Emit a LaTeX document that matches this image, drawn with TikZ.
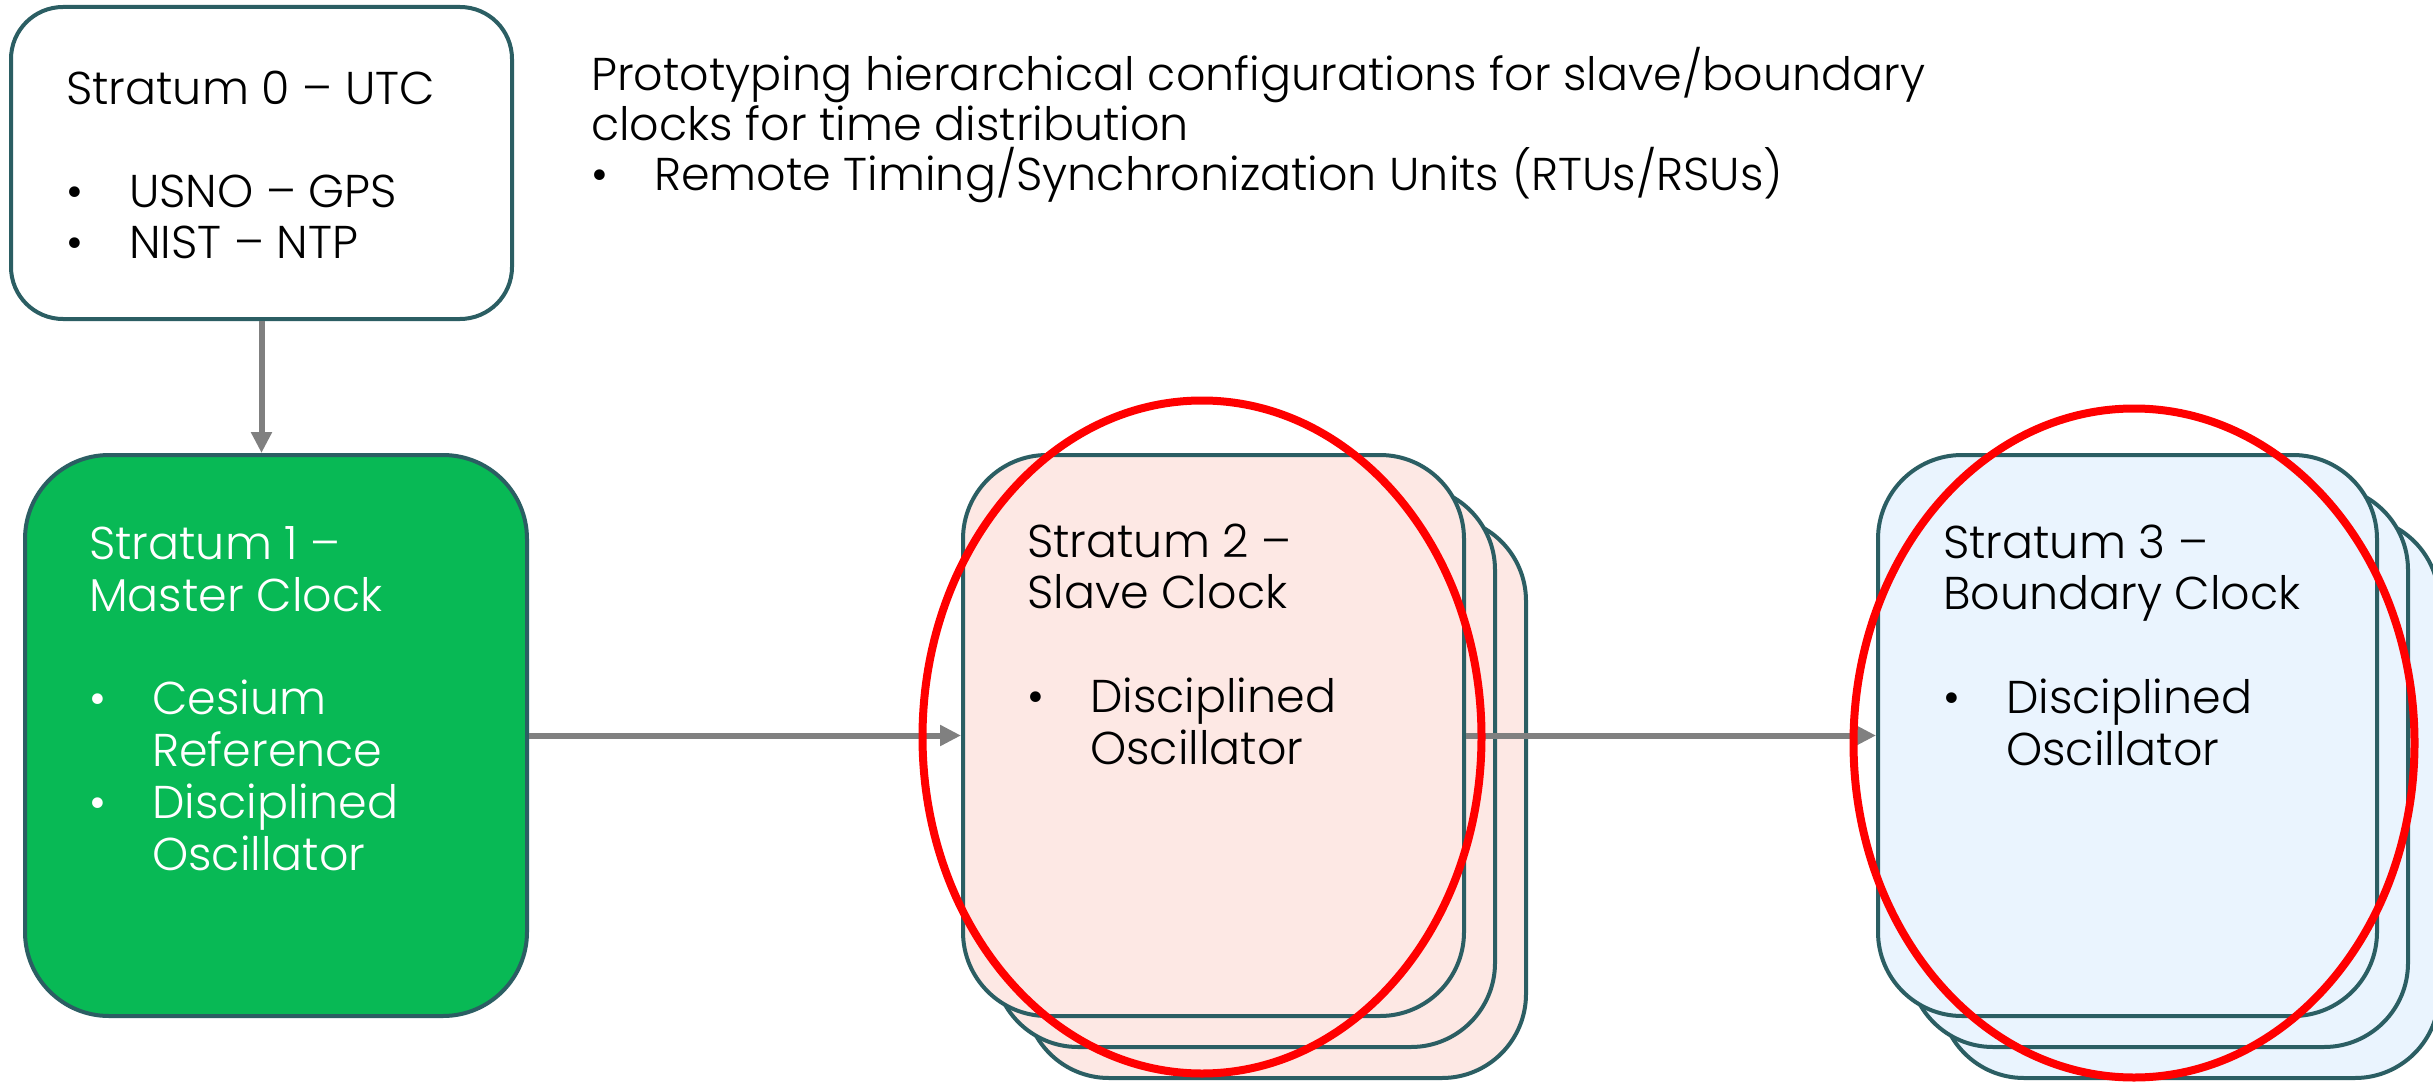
\documentclass[tikz,border=0pt]{standalone}
\usepackage{fontspec}
\setmainfont{Poppins}[UprightFont=* Light]
\usetikzlibrary{arrows.meta,shapes.geometric}

\definecolor{edgeteal}{HTML}{2B5E63}
\definecolor{mastergreen}{HTML}{08B955}
\definecolor{slavepink}{HTML}{FDE8E4}
\definecolor{boundblue}{HTML}{EAF4FE}
\definecolor{linkgray}{HTML}{808080}
\definecolor{markred}{HTML}{FF0000}

\newcommand\blt{\makebox[63pt][l]{\textbullet}}
\newcommand\ind{\hspace*{63pt}}

\begin{document}
\begin{tikzpicture}[x=1pt,y=-1pt,
  card/.style={rectangle, draw=edgeteal, line width=4pt, inner sep=0pt},
  % text blocks are placed by the baseline of their last line
  label/.style={anchor=base west, inner sep=0pt, align=left,
    font=\fontsize{46}{51.7}\selectfont},
  link/.style={draw=linkgray, line width=6pt,
    -{Triangle[length=21pt,width=20pt]}},
  ring/.style={ellipse, draw=markred, line width=8pt, inner sep=0pt}]

\fill[white] (0,0) rectangle (2433,1083);
\useasboundingbox (0,0) rectangle (2433,1083);

% Stratum 0 source
\node[card, fill=white, minimum width=501pt, minimum height=312pt,
      rounded corners=52pt] (s0) at (261.5,163) {};
\node[label] (s0txt) at (66,259)
  {Stratum 0 – UTC\\[51pt]\blt USNO – GPS\\\blt NIST – NTP};

% Stratum 1 master clock
\node[card, fill=mastergreen, minimum width=502pt, minimum height=561pt,
      rounded corners=84pt] (s1) at (276,735.5) {};
\node[label, text=white] (s1txt) at (89,870)
  {Stratum 1 –\\Master Clock\\[51.7pt]\blt Cesium\\\ind Reference\\\blt Disciplined\\\ind Oscillator};

% Stratum 2 slave clocks (stack of three)
\foreach \k/\nm in {62/s2c,31/s2b,0/s2a}{
  \node[card, fill=slavepink, minimum width=501pt, minimum height=561pt,
        rounded corners=84pt] (\nm) at (1213.5+\k,735.5+\k) {};
}
\node[label] (s2txt) at (1027,764)
  {Stratum 2 –\\Slave Clock\\[51.7pt]\blt Disciplined\\\ind Oscillator};

% Stratum 3 boundary clocks (stack of three)
\foreach \k/\nm in {62/s3c,31/s3b,0/s3a}{
  \node[card, fill=boundblue, minimum width=499pt, minimum height=561pt,
        rounded corners=84pt] (\nm) at (2127.5+\k,735.5+\k) {};
}
\node[label] (s3txt) at (1943,765)
  {Stratum 3 –\\Boundary Clock\\[51.7pt]\blt Disciplined\\\ind Oscillator};

% Heading text
\node[label, font=\fontsize{46}{50}\selectfont] (title) at (591,191)
  {Prototyping hierarchical configurations for slave/boundary\\clocks for time distribution\\\blt Remote Timing/Synchronization Units (RTUs/RSUs)};

% Connectors
\draw[link] (s0.south) -- (s0.south |- s1.north);
\draw[link] (s1.east) -- (s2a.west);
\draw[link] (s2a.east) -- (s3a.west);

% Highlight rings
\node[ring, minimum width=559pt, minimum height=673pt] (ring2) at (1202,737) {};
\node[ring, minimum width=561pt, minimum height=669pt] (ring3) at (2134,743) {};
\end{tikzpicture}
\end{document}
